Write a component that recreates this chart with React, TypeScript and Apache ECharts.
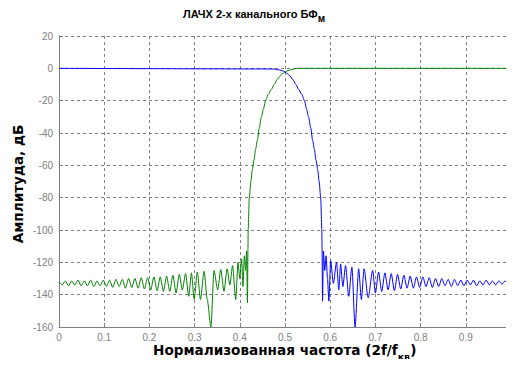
import React, { useEffect, useRef } from "react";
import * as echarts from "echarts";

// ---- data ----
const xTicks = [0, 0.1, 0.2, 0.3, 0.4, 0.5, 0.6, 0.7, 0.8, 0.9];
const yTicks = [20, 0, -20, -40, -60, -80, -100, -120, -140, -160];

// green (high-pass channel): frequency, dB
const greenX = [
  0.000, 0.007, 0.014, 0.021, 0.028, 0.035, 0.042, 0.049, 0.056, 0.063,
  0.070, 0.077, 0.084, 0.091, 0.098, 0.105, 0.112, 0.119, 0.126, 0.133,
  0.140, 0.147, 0.154, 0.161, 0.168, 0.175, 0.182, 0.189, 0.196, 0.203,
  0.210, 0.217, 0.224, 0.231, 0.238, 0.245, 0.252, 0.259, 0.266, 0.273,
  0.280, 0.287, 0.293, 0.299, 0.306, 0.313, 0.321, 0.328, 0.336, 0.343,
  0.351, 0.358, 0.365, 0.372, 0.378, 0.384, 0.391, 0.396, 0.400, 0.404,
  0.407, 0.410, 0.413, 0.415, 0.417, 0.418, 0.4185, 0.421, 0.4245, 0.4275,
  0.4315, 0.435, 0.439, 0.443, 0.448, 0.452, 0.457, 0.463, 0.470, 0.476,
  0.4825, 0.489, 0.4956, 0.503, 0.5116, 0.519, 0.526, 1.000,
];
const greenY = [
  -132, -134, -131.5, -134.5, -131.5, -134, -131, -134.5, -131.5, -134.5,
  -131, -135, -131.5, -134.5, -131, -135, -131, -135.5, -130.5, -135,
  -130.5, -136, -130, -135.5, -130, -136, -129.5, -136.5, -129.5, -137,
  -129, -137.5, -129, -138, -128.5, -138, -128, -139, -127.5, -137,
  -127, -141, -126.5, -143, -126, -143, -125.5, -143, -160, -125,
  -137, -124.5, -138, -124, -134, -122, -143, -120, -130, -118,
  -135, -116, -125, -113, -145, -112, -100, -80, -70, -63,
  -56.7, -50, -44.3, -37, -30, -25.5, -20, -16, -13, -10,
  -7, -4.8, -3, -1.8, -1, -0.4, 0, 0,
];

// blue (low-pass channel): frequency, dB
const blueX = [
  0.000, 0.474, 0.4884, 0.497, 0.5044, 0.511, 0.5175, 0.524, 0.530, 0.537,
  0.543, 0.548, 0.552, 0.557, 0.561, 0.565, 0.5685, 0.5725, 0.5755, 0.579,
  0.5815, 0.582, 0.583, 0.585, 0.588,
  0.591, 0.594, 0.597, 0.601, 0.607, 0.614, 0.619, 0.623, 0.628, 0.634,
  0.641, 0.648, 0.655, 0.663, 0.669, 0.675, 0.684, 0.694, 0.700, 0.707,
  0.714, 0.721, 0.728, 0.735, 0.742, 0.749, 0.756, 0.763, 0.770, 0.777,
  0.784, 0.791, 0.798, 0.805, 0.812, 0.819, 0.826, 0.833, 0.840, 0.847,
  0.854, 0.861, 0.868, 0.875, 0.882, 0.889, 0.896, 0.903, 0.910, 0.917,
  0.924, 0.931, 0.938, 0.945, 0.952, 0.959, 0.966, 0.973, 0.980, 0.987,
  0.994, 1.000,
];
const blueY = [
  0, -0.4, -1, -1.8, -3, -4.8, -7, -10, -13, -16,
  -20, -25.5, -30, -37, -44.3, -50, -56.7, -63, -70, -80,
  -100, -112, -144, -113, -125,
  -116, -130, -144, -119, -133, -120, -137, -121, -135, -122,
  -141, -123, -160, -124, -143, -124, -142, -125, -139, -126,
  -138, -126.5, -137, -127, -137.5, -127.5, -136.5, -128, -136, -128.5,
  -136, -129, -135.5, -129, -135, -129.5, -135.5, -130, -135, -130,
  -134.5, -130.5, -135, -130.5, -134.5, -131, -134.5, -131, -134, -131,
  -134.5, -131.5, -134, -131, -134, -131.5, -134, -131.5, -133.5, -131.5,
  -133.5, -132,
];

const titleMain = "ЛАЧХ 2-х канального БФ";
const titleSub = "м";
const xLabelMain = "Нормализованная частота (2f/f";
const xLabelSub = "кв";
const xLabelEnd = ")";
const yLabel = "Амплитуда, дБ";

const TICK_FONT = "'Liberation Sans', Arial, sans-serif";
const TITLE_FONT = "'Liberation Sans', Arial, sans-serif";
const LABEL_FONT = "'DejaVu Sans', sans-serif";

export default function App() {
  const ref = useRef<HTMLDivElement>(null);
  useEffect(() => {
    if (!ref.current) return;
    const chart = echarts.init(ref.current, undefined, { renderer: "svg" });
    const green = greenX.map((x, i) => [x, greenY[i]]);
    const blue = blueX.map((x, i) => [x, blueY[i]]);
    const gray = "#808080";
    chart.setOption({
      animation: false,
      backgroundColor: "#ffffff",
      grid: { left: 59, top: 36, width: 458, height: 291, containLabel: false },
      xAxis: {
        type: "value",
        min: 0,
        max: 1,
        interval: 0.1,
        axisLine: { show: true, onZero: false, lineStyle: { color: gray, width: 1 } },
        axisTick: { show: true, inside: true, length: 4, lineStyle: { color: gray } },
        axisLabel: {
          color: gray,
          fontSize: 10,
          fontFamily: TICK_FONT,
          margin: 5,
          formatter: (v: number) => {
            const t = xTicks.find((k) => Math.abs(k - v) < 1e-6);
            return t === undefined ? "" : String(t);
          },
        },
        splitLine: { show: true, lineStyle: { color: gray, type: [3, 3], width: 1 } },
      },
      yAxis: {
        type: "value",
        min: -160,
        max: 20,
        interval: 20,
        axisLine: { show: true, lineStyle: { color: gray, width: 1 } },
        axisTick: { show: true, inside: true, length: 4, lineStyle: { color: gray } },
        axisLabel: {
          color: gray,
          fontSize: 10,
          fontFamily: TICK_FONT,
          margin: 6,
          formatter: (v: number) => {
            const t = yTicks.find((k) => Math.abs(k - v) < 1e-6);
            return t === undefined ? "" : String(t);
          },
        },
        splitLine: { show: true, lineStyle: { color: gray, type: [3, 3], width: 1 } },
      },
      series: [
        {
          type: "line",
          data: green,
          showSymbol: false,
          symbol: "none",
          smooth: 0.25,
          smoothMonotone: "x",
          lineStyle: { color: "#008000", width: 1 },
          clip: true,
          z: 3,
        },
        {
          type: "line",
          data: blue,
          showSymbol: false,
          symbol: "none",
          smooth: 0.25,
          smoothMonotone: "x",
          lineStyle: { color: "#0000ff", width: 1 },
          clip: true,
          z: 4,
        },
      ],
      graphic: [
        {
          type: "text",
          left: 183,
          top: 8,
          style: {
            text: `{a|${titleMain}}{s|${titleSub}}`,
            rich: {
              a: { fontSize: 11, fontWeight: "bold", fontFamily: TITLE_FONT, color: "#000", lineHeight: 20, verticalAlign: "middle" },
              s: { fontSize: 10, fontWeight: "bold", fontFamily: TITLE_FONT, color: "#000", lineHeight: 10, verticalAlign: "bottom" },
            },
          },
        },
        {
          type: "text",
          left: 153,
          top: 343,
          style: {
            text: `{a|${xLabelMain}}{s|${xLabelSub}}{a|${xLabelEnd}}`,
            rich: {
              a: { fontSize: 13.6, fontWeight: "bold", fontFamily: LABEL_FONT, color: "#000", lineHeight: 22, verticalAlign: "middle" },
              s: { fontSize: 9.5, fontWeight: "bold", fontFamily: LABEL_FONT, color: "#000", lineHeight: 9, verticalAlign: "bottom" },
            },
          },
        },
        {
          type: "text",
          x: 18,
          y: 184,
          rotation: Math.PI / 2,
          style: {
            text: yLabel,
            fontSize: 13.6,
            fontWeight: "bold",
            fontFamily: LABEL_FONT,
            fill: "#000",
            align: "center",
            verticalAlign: "middle",
          },
        },
      ],
    });
    return () => chart.dispose();
  }, []);
  return <div ref={ref} style={{ width: 514, height: 367, margin: -8 }} />;
}
